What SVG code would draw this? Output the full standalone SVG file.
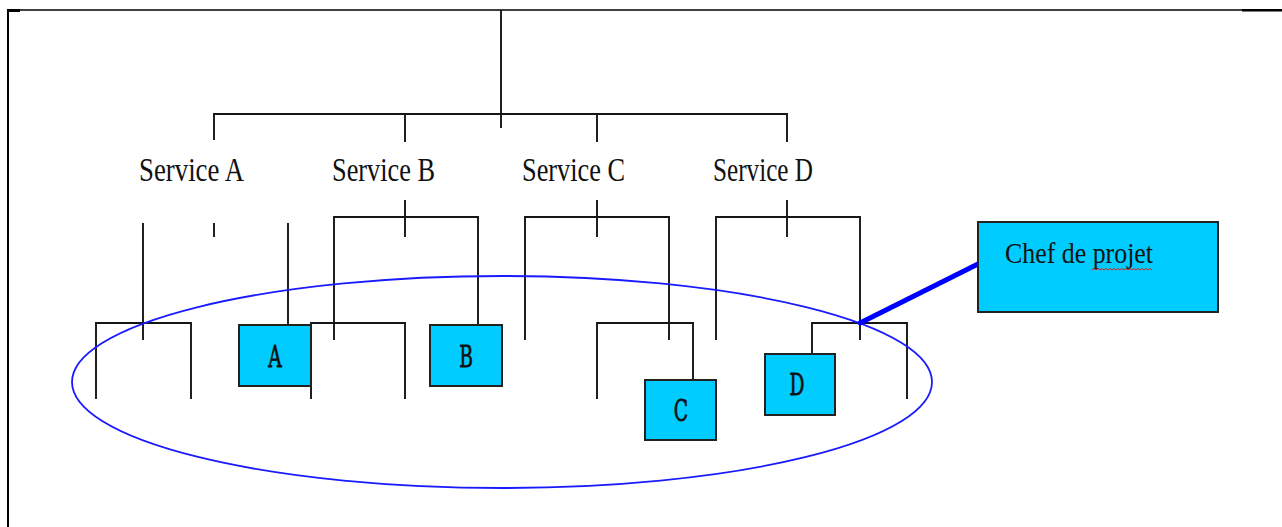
<svg xmlns="http://www.w3.org/2000/svg" width="1282" height="527" viewBox="0 0 1282 527">
  <style>
    .frame { fill: none; stroke: #000; stroke-width: 2; }
    .link { fill: none; stroke: #161616; stroke-width: 1.9; stroke-linecap: butt; }
    .box { fill: #00ccff; stroke: #222; stroke-width: 2; }
    .svc { font-family: "Liberation Serif", "Times New Roman", serif; font-size: 26px; fill: #111; }
    .letter { font-family: "DejaVu Serif", "Liberation Serif", serif; font-size: 22px; fill: #111; stroke: #111; stroke-width: 0.6; }
    .group-ring { fill: none; stroke: #1a1aff; stroke-width: 1.8; }
    .pointer { fill: none; stroke: #0000ff; stroke-width: 5; stroke-linecap: round; }
  </style>

  <rect width="1282" height="527" fill="#fff"/>

  <!-- page frame -->
  <g id="frame">
    <path class="frame" d="M8 527 V10" />
    <path d="M8 10 H1245" fill="none" stroke="#000" stroke-width="1.3"/>
    <path d="M7 10.5 H20" fill="none" stroke="#000" stroke-width="3"/>
    <path d="M1242 10.3 H1282" fill="none" stroke="#000" stroke-width="2.5"/>
  </g>

  <!-- tree connectors -->
  <g id="connectors">
    <path class="link" d="M501 10 V128"/>
    <path class="link" d="M214 140 V114 H787 V142"/>
    <path class="link" d="M405 114 V142"/>
    <path class="link" d="M597 114 V142"/>

    <path class="link" d="M143 223 V340"/>
    <path class="link" d="M214 223 V237"/>
    <path class="link" d="M288 223 V325"/>

    <path class="link" d="M405 200 V237"/>
    <path class="link" d="M334 340 V217 H478 V325"/>

    <path class="link" d="M597 200 V237"/>
    <path class="link" d="M525 340 V217 H669 V340"/>

    <path class="link" d="M787 200 V237"/>
    <path class="link" d="M716 340 V217 H860 V340"/>

    <path class="link" d="M96 399 V323 H191 V399"/>
    <path class="link" d="M311 399 V323 H405 V399"/>
    <path class="link" d="M597 399 V323 H693 V380"/>
    <path class="link" d="M812 354 V323 H907 V399"/>
  </g>

  <!-- service labels -->
  <g id="service-a"><text class="svc" transform="translate(191.5 181) scale(1 1.33)" text-anchor="middle" textLength="105" lengthAdjust="spacingAndGlyphs">Service A</text></g>
  <g id="service-b"><text class="svc" transform="translate(383.5 181) scale(1 1.33)" text-anchor="middle" textLength="103" lengthAdjust="spacingAndGlyphs">Service B</text></g>
  <g id="service-c"><text class="svc" transform="translate(573.5 181) scale(1 1.33)" text-anchor="middle" textLength="103" lengthAdjust="spacingAndGlyphs">Service C</text></g>
  <g id="service-d"><text class="svc" transform="translate(763 181) scale(1 1.33)" text-anchor="middle" textLength="100" lengthAdjust="spacingAndGlyphs">Service D</text></g>

  <!-- project members -->
  <g id="member-a">
    <rect class="box" x="239" y="325" width="72" height="61"/>
    <text class="letter" transform="translate(275 367) scale(0.85 1.35)" text-anchor="middle">A</text>
  </g>
  <g id="member-b">
    <rect class="box" x="430" y="325" width="72" height="61"/>
    <text class="letter" transform="translate(466 367) scale(0.85 1.35)" text-anchor="middle">B</text>
  </g>
  <g id="member-c">
    <rect class="box" x="645" y="380" width="71" height="60"/>
    <text class="letter" transform="translate(681 421) scale(0.85 1.35)" text-anchor="middle">C</text>
  </g>
  <g id="member-d">
    <rect class="box" x="765" y="354" width="70" height="61"/>
    <text class="letter" transform="translate(797 395) scale(0.85 1.35)" text-anchor="middle">D</text>
  </g>

  <!-- project team ring -->
  <g id="project-team">
    <ellipse class="group-ring" cx="502" cy="382" rx="430" ry="106"/>
  </g>

  <!-- project lead -->
  <g id="chef-de-projet">
    <path class="pointer" d="M860 323 L978 264"/>
    <rect class="box" x="978" y="222" width="240" height="90"/>
    <text class="svc" transform="translate(1005 263) scale(1 1.17)" textLength="148" lengthAdjust="spacingAndGlyphs">Chef de projet</text>
    <path d="M1092 270 l2 -1.5 l2 1.5 l2 -1.5 l2 1.5 l2 -1.5 l2 1.5 l2 -1.5 l2 1.5 l2 -1.5 l2 1.5 l2 -1.5 l2 1.5 l2 -1.5 l2 1.5 l2 -1.5 l2 1.5 l2 -1.5 l2 1.5 l2 -1.5 l2 1.5 l2 -1.5 l2 1.5 l2 -1.5 l2 1.5 l2 -1.5 l2 1.5 l2 -1.5 l2 1.5 l2 -1.5 l2 1.5" fill="none" stroke="#e02020" stroke-width="1"/>
  </g>
</svg>
